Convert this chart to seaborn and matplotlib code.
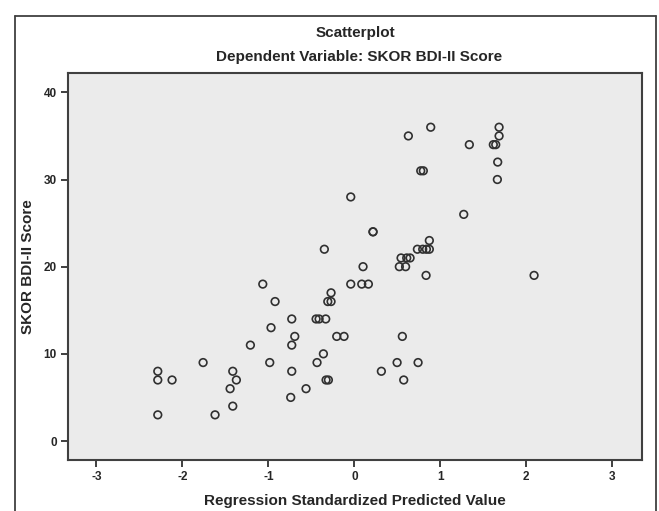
import numpy as np
import pandas as pd
import matplotlib
matplotlib.use("Agg")
import matplotlib.pyplot as plt
import seaborn as sns
from matplotlib.lines import Line2D

pred = [-1.209, -1.759, -2.286, -2.286, -2.120, -1.414, -1.372, -1.445, -1.414, -2.286,
        -1.620, -0.349, 0.733, 0.795, 0.838, 0.872, 0.872, 0.543, 0.609, 0.648,
        0.523, 0.596, 0.101, 0.834, -1.065, -0.042, 0.086, 0.163, -0.271, -0.309,
        -0.271, -0.922, -0.728, -0.445, -0.410, -0.333, -0.969, -0.693, -0.205, -0.120,
        0.558, -0.728, -0.360, -0.984, -0.434, 0.497, 0.741, -0.728, 0.314, -0.329,
        -0.302, 0.574, -0.562, -0.740, -0.042, 0.217, 0.217, 0.888, 0.628, 1.683,
        1.683, 1.337, 1.616, 1.644, 1.667, 1.663, 0.772, 0.802, 1.272, 2.090]
score = [11, 9, 8, 7, 7, 8, 7, 6, 4, 3,
         3, 22, 22, 22, 22, 22, 23, 21, 21, 21,
         20, 20, 20, 19, 18, 18, 18, 18, 17, 16,
         16, 16, 14, 14, 14, 14, 13, 12, 12, 12,
         12, 11, 10, 9, 9, 9, 9, 8, 8, 7,
         7, 7, 6, 5, 28, 24, 24, 36, 35, 36,
         35, 34, 34, 34, 32, 30, 31, 31, 26, 19]
x_ticks = [-3, -2, -1, 0, 1, 2, 3]
y_ticks = [0, 10, 20, 30, 40]

df = pd.DataFrame({"pred": pred, "score": score})

sns.set_style("white")
plt.rcParams["font.family"] = ["Liberation Sans", "DejaVu Sans"]

fig = plt.figure(figsize=(6.59, 5.11), dpi=100)
ax = fig.add_axes([0.1032, 0.0998, 0.871, 0.757])
ax.set_facecolor("#ebebeb")

sns.scatterplot(data=df, x="pred", y="score", ax=ax, marker="o", s=30,
                facecolors="none", edgecolor="#303030", linewidth=1.2)

ax.set_xlim(-3.33, 3.345)
ax.set_ylim(-2.18, 42.2)
ax.set_xticks(x_ticks)
ax.set_yticks(y_ticks)
ax.set_xticklabels([str(t) for t in x_ticks], fontsize=8.5, fontweight="bold")
ax.set_yticklabels([str(t) for t in y_ticks], fontsize=8.5, fontweight="bold")
ax.tick_params(direction="out", length=5, width=1.3, color="#303030", pad=3,
               bottom=True, left=True)
for sp in ax.spines.values():
    sp.set_color("#404040")
    sp.set_linewidth(1.5)

ax.set_xlabel("Regression Standardized Predicted Value", fontsize=11,
              fontweight="bold", labelpad=8)
ax.set_ylabel("SKOR BDI-II Score", fontsize=11, fontweight="bold", labelpad=6)

fig.text(0.54, 0.935, "Scatterplot", ha="center", va="center",
         fontsize=11, fontweight="bold")
fig.text(0.545, 0.888, "Dependent Variable: SKOR BDI-II Score", ha="center",
         va="center", fontsize=11, fontweight="bold")

# outer frame around the whole chart
fx0, fx1, fy1 = 15 / 659, 656 / 659, 1 - 16 / 511
for xs, ys in [([fx0, fx0], [0, fy1]), ([fx0, fx1], [fy1, fy1]), ([fx1, fx1], [fy1, 0])]:
    fig.add_artist(Line2D(xs, ys, color="#404040", linewidth=1.3,
                          transform=fig.transFigure))

fig.savefig("out.png", dpi=100)
